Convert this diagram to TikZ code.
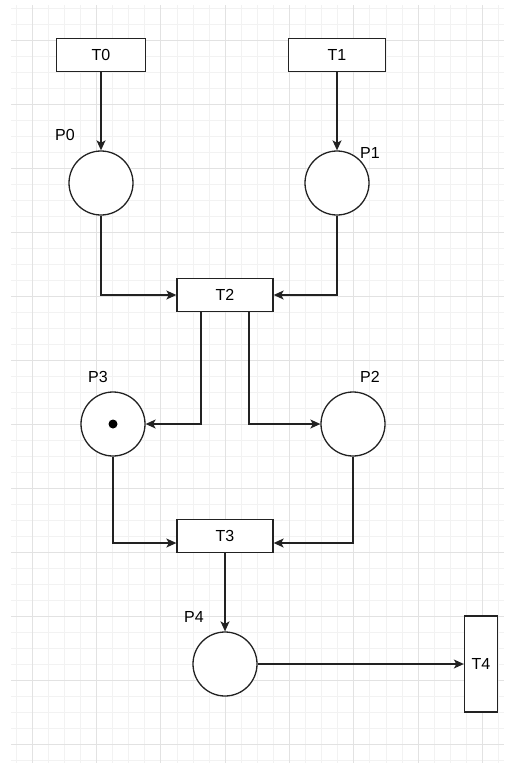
\documentclass[tikz,border=0pt]{standalone}
\usepackage{fontspec}
\setmainfont{Liberation Sans}
\usepackage{xcolor}
\usepackage{tikz}
\usetikzlibrary{arrows.meta, positioning}
\definecolor{PN_LINE}{HTML}{222222}
\definecolor{PN_MAJOR}{HTML}{E2E2E2}
\definecolor{PN_MINOR}{HTML}{F2F2F2}
\tikzset{
  place/.style={
    circle, minimum size=64pt, inner sep=0pt,
    draw=PN_LINE, line width=1.3pt, fill=white},
  trans/.style={
    rectangle, minimum width=96pt, minimum height=33pt, inner sep=0pt,
    draw=PN_LINE, line width=1.3pt, fill=white,
    font=\fontsize{16}{19}\selectfont},
  lbl/.style={inner sep=0pt, font=\fontsize{16}{19}\selectfont},
  token/.style={circle, fill=black, minimum size=9pt, inner sep=0pt},
  arr/.style={-{Stealth[length=10pt,width=9pt,inset=2.5pt]},
    line width=1.3pt, color=PN_LINE},
}
\begin{document}
\begin{tikzpicture}[x=1pt, y=-1pt]
  \useasboundingbox (0,0) rectangle (504,763);

  % background grid
  \begin{scope}
    \clip (11,5) rectangle (504,762);
    \foreach \k in {-1,...,7}
      \foreach \m in {1,2,3}
        \draw[PN_MINOR, line width=0.8pt] (32.3+64.3*\k+16.075*\m,0) -- ++(0,763);
    \foreach \k in {-1,...,12}
      \foreach \m in {1,2,3}
        \draw[PN_MINOR, line width=0.8pt] (0,40+64*\k+16*\m) -- ++(504,0);
    \foreach \k in {-1,...,7}
      \draw[PN_MAJOR, line width=1pt] (32.3+64.3*\k,0) -- ++(0,763);
    \foreach \k in {-1,...,12}
      \draw[PN_MAJOR, line width=1pt] (0,40+64*\k) -- ++(504,0);
  \end{scope}

  % transitions
  \node[trans, minimum width=89pt] (T0) at (101,55) {T0};
  \node[trans, minimum width=97pt] (T1) at (337,55) {T1};
  \node[trans] (T2) at (225,295) {T2};
  \node[trans] (T3) at (225,536) {T3};
  \node[trans, minimum width=33pt, minimum height=96pt] (T4) at (481,664) {T4};

  % places
  \node[place] (P0) at (101,183) {};
  \node[place] (P1) at (337,183) {};
  \node[place] (P3) at (113,424) {};
  \node[token] (tok) at (P3) {};
  \node[place] (P2) at (353,424) {};
  \node[place] (P4) at (225,664) {};

  \node[lbl] (lP0) at (65,135) {P0};
  \node[lbl] (lP1) at (370,153) {P1};
  \node[lbl] (lP3) at (98,377) {P3};
  \node[lbl] (lP2) at (370,377) {P2};
  \node[lbl] (lP4) at (194,617) {P4};

  % arcs
  \draw[arr] (T0) -- (P0);
  \draw[arr] (T1) -- (P1);
  \draw[arr] (P0) |- (T2);
  \draw[arr] (P1) |- (T2);
  \draw[arr] ([xshift=-24pt]T2.south) |- (P3);
  \draw[arr] ([xshift=24pt]T2.south) |- (P2);
  \draw[arr] (P3) |- ([yshift=-7pt]T3.west);
  \draw[arr] (P2) |- ([yshift=-7pt]T3.east);
  \draw[arr] (T3) -- (P4);
  \draw[arr] (P4) -- (T4);

\end{tikzpicture}
\end{document}
